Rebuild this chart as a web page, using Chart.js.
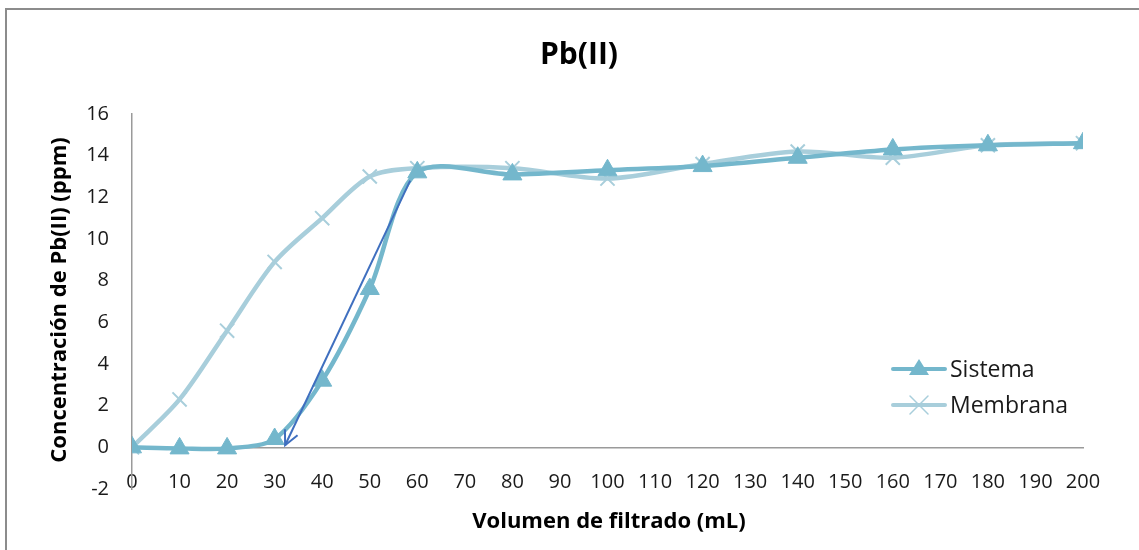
<!DOCTYPE html>
<html>
<head>
<meta charset="utf-8">
<script src="https://cdn.jsdelivr.net/npm/chart.js@4.4.0/dist/chart.umd.min.js"></script>
<style>
html,body{margin:0;padding:0;background:#fff;}
#wrap{position:relative;width:1139px;height:550px;overflow:hidden;}
#frame{position:absolute;left:5px;top:8px;width:1200px;height:600px;border-left:2px solid #8c8c8c;border-top:2px solid #8c8c8c;box-sizing:border-box;}
canvas{position:absolute;left:0;top:0;}
</style>
</head>
<body>
<div id="wrap"><div id="frame"></div><canvas id="c" width="1139" height="550"></canvas></div>
<script>
const volumes = [0, 10, 20, 30, 40, 50, 60, 80, 100, 120, 140, 160, 180, 200];
const sistema = [0, -0.05, -0.05, 0.4, 3.2, 7.6, 13.2, 13.1, 13.3, 13.5, 13.9, 14.3, 14.5, 14.6];
const membrana = [0, 2.3, 5.6, 8.9, 11.0, 13.0, 13.4, 13.4, 12.9, 13.6, 14.2, 13.9, 14.5, 14.6];
const arrowX = [58.5, 32.2];
const arrowY = [12.8, 0.1];
const seriesNames = ['Sistema', 'Membrana'];
const chartTitle = 'Pb(II)';
const xTitle = 'Volumen de filtrado (mL)';
const yTitle = 'Concentración de Pb(II) (ppm)';

const FONT = '"Open Sans", Lato, sans-serif';
const C_SIS = '#74B7CC';
const C_MEM = '#A8CEDB';
const C_ARR = '#3F6FBF';

const toXY = (xs, ys) => xs.map((x, i) => ({x: x, y: ys[i]}));

const titlePlugin = {
  id: 'titleAndLegend',
  afterDraw(chart) {
    const ctx = chart.ctx;
    ctx.save();
    ctx.fillStyle = '#000';
    ctx.textAlign = 'center';
    ctx.textBaseline = 'middle';
    ctx.font = 'bold 30px ' + FONT;
    ctx.fillText(chartTitle, 579, 55);
    ctx.font = 'bold 22px ' + FONT;
    ctx.fillText(xTitle, 609, 522);
    ctx.save();
    ctx.translate(60, 300);
    ctx.rotate(-Math.PI / 2);
    ctx.fillText(yTitle, 0, 0);
    ctx.restore();
    // legend
    const items = [
      {name: seriesNames[0], color: C_SIS, style: 'triangle', y: 369},
      {name: seriesNames[1], color: C_MEM, style: 'crossRot', y: 405}
    ];
    items.forEach(it => {
      ctx.strokeStyle = it.color;
      ctx.lineWidth = 4;
      ctx.lineCap = 'round';
      ctx.beginPath();
      ctx.moveTo(893, it.y);
      ctx.lineTo(945, it.y);
      ctx.stroke();
      if (it.style === 'triangle') {
        ctx.fillStyle = it.color;
        ctx.beginPath();
        ctx.moveTo(919, it.y - 10);
        ctx.lineTo(929, it.y + 6);
        ctx.lineTo(909, it.y + 6);
        ctx.closePath();
        ctx.fill();
      } else {
        ctx.lineWidth = 1.5;
        ctx.beginPath();
        ctx.moveTo(910, it.y - 9); ctx.lineTo(928, it.y + 9);
        ctx.moveTo(928, it.y - 9); ctx.lineTo(910, it.y + 9);
        ctx.stroke();
      }
      ctx.fillStyle = '#1a1a1a';
      ctx.font = '23px ' + FONT;
      ctx.textAlign = 'left';
      ctx.fillText(it.name, 950, it.y + 1);
    });
    // arrow head
    const xs = chart.scales.x, ys = chart.scales.y;
    const x1 = xs.getPixelForValue(arrowX[0]), y1 = ys.getPixelForValue(arrowY[0]);
    const x2 = xs.getPixelForValue(arrowX[1]), y2 = ys.getPixelForValue(arrowY[1]);
    const ang = Math.atan2(y2 - y1, x2 - x1);
    const L = 16, A = 0.45;
    ctx.strokeStyle = C_ARR;
    ctx.lineWidth = 2;
    ctx.lineCap = 'butt';
    ctx.beginPath();
    ctx.moveTo(x2 - L * Math.cos(ang - A), y2 - L * Math.sin(ang - A));
    ctx.lineTo(x2, y2);
    ctx.lineTo(x2 - L * Math.cos(ang + A), y2 - L * Math.sin(ang + A));
    ctx.stroke();
    ctx.restore();
  }
};

new Chart(document.getElementById('c'), {
  type: 'line',
  data: {
    datasets: [
      {
        label: seriesNames[1],
        data: toXY(volumes, membrana),
        borderColor: C_MEM,
        backgroundColor: C_MEM,
        borderWidth: 4.5,
        tension: 0.3,
        pointStyle: 'crossRot',
        pointRadius: 10,
        pointBorderWidth: 2,
        pointBorderColor: C_MEM,
        order: 3
      },
      {
        label: seriesNames[0],
        data: toXY(volumes, sistema),
        borderColor: C_SIS,
        backgroundColor: C_SIS,
        borderWidth: 4.5,
        tension: 0.3,
        pointStyle: 'triangle',
        pointRadius: 11,
        pointBorderWidth: 1,
        pointBorderColor: C_SIS,
        pointBackgroundColor: C_SIS,
        order: 2
      },
      {
        label: 'arrow',
        data: toXY(arrowX, arrowY),
        borderColor: C_ARR,
        borderWidth: 2,
        tension: 0,
        pointRadius: 0,
        order: 1
      }
    ]
  },
  options: {
    responsive: false,
    animation: false,
    layout: {padding: {left: 0, top: 114, right: 56, bottom: 61}},
    plugins: {
      legend: {display: false},
      title: {display: false},
      tooltip: {enabled: false}
    },
    scales: {
      x: {
        type: 'linear',
        min: 0,
        max: 200,
        position: {y: 0},
        ticks: {stepSize: 10, padding: 23, color: '#1a1a1a', font: {family: FONT, size: 20}, maxRotation: 0, autoSkip: false},
        grid: {display: false, drawTicks: false},
        border: {display: true, color: '#9a9a9a', width: 1.5}
      },
      y: {
        min: -2,
        max: 16,
        ticks: {stepSize: 2, padding: 23, color: '#1a1a1a', font: {family: FONT, size: 20}},
        grid: {display: false, drawTicks: false},
        border: {display: true, color: '#9a9a9a', width: 1.5},
        afterFit(scale) { scale.width = 132; }
      }
    }
  },
  plugins: [titlePlugin]
});
</script>
</body>
</html>
